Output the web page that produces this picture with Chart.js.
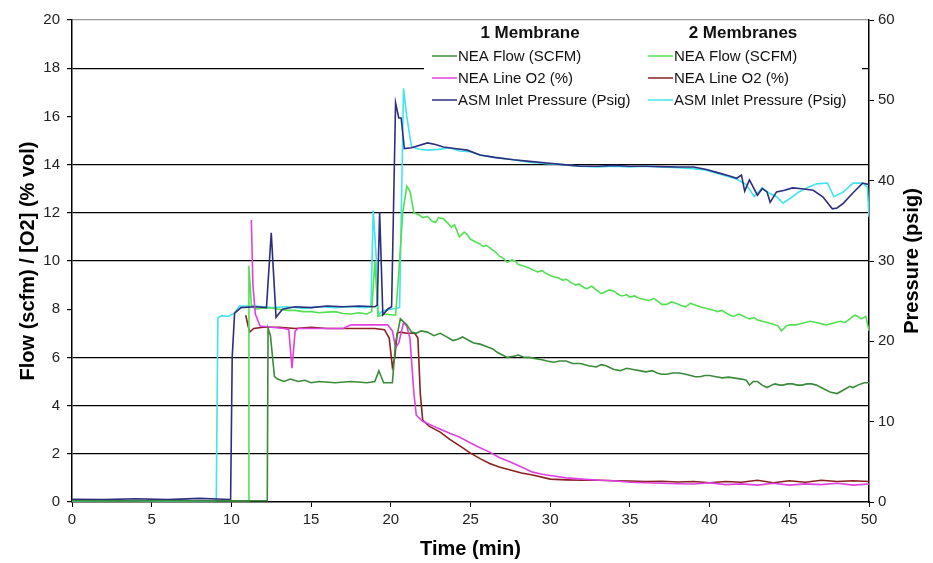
<!DOCTYPE html>
<html>
<head>
<meta charset="utf-8">
<script src="https://cdn.jsdelivr.net/npm/chart.js@4"></script>
<style>
  html, body { margin: 0; padding: 0; background: #fff; }
  #chart { display: block; }
</style>
</head>
<body>
<canvas id="chart" width="933" height="563"></canvas>
<script>
// Time (min) / value pairs. Flow and O2 use the left axis, pressure the right one.
const flow1 = [
  [0, 0.05], [2, 0.05], [4, 0.05], [6, 0.05], [8, 0.05], [10, 0.05], [12.25, 0.05], [12.3, 7.2], [12.45, 6.9],
  [12.7, 5.2], [12.9, 5.1], [13.3, 5.0], [13.7, 5.1], [14.2, 5.0], [14.6, 5.05], [15.0, 4.95], [15.5, 5.0],
  [16.5, 4.95], [17.5, 5.0], [18.5, 4.95], [19.0, 5.0], [19.25, 5.45], [19.55, 4.95], [20.1, 4.95], [20.3, 6.6],
  [20.6, 7.6], [21.0, 7.35], [21.3, 7.05], [21.6, 7.0], [21.9, 7.1], [22.3, 7.05], [22.7, 6.9], [23.1, 7.0],
  [23.5, 6.85], [23.9, 6.7], [24.2, 6.75], [24.5, 6.85], [24.9, 6.7], [25.2, 6.6], [25.6, 6.55], [26.0, 6.45],
  [26.4, 6.35], [26.7, 6.2], [27.0, 6.1], [27.3, 6.0], [27.7, 6.05], [28.0, 6.1], [28.4, 6.0], [28.7, 6.0],
  [29.1, 5.95], [29.5, 5.9], [29.8, 5.85], [30.2, 5.8], [30.6, 5.85], [31.0, 5.85], [31.4, 5.75], [31.9, 5.75],
  [32.4, 5.65], [32.9, 5.6], [33.2, 5.7], [33.5, 5.65], [34.0, 5.5], [34.4, 5.45], [34.8, 5.55], [35.2, 5.5],
  [35.6, 5.45], [36.0, 5.4], [36.4, 5.45], [36.7, 5.35], [37.0, 5.3], [37.3, 5.3], [37.7, 5.35], [38.1, 5.35],
  [38.5, 5.3], [38.8, 5.25], [39.1, 5.2], [39.4, 5.2], [39.7, 5.25], [40.0, 5.25], [40.4, 5.2], [40.8, 5.15],
  [41.2, 5.18], [41.5, 5.15], [42.0, 5.1], [42.3, 5.05], [42.5, 4.85], [42.75, 5.0], [43.0, 5.0], [43.3, 4.85],
  [43.6, 4.75], [43.9, 4.85], [44.1, 4.9], [44.4, 4.85], [44.6, 4.85], [44.9, 4.9], [45.2, 4.9], [45.5, 4.85],
  [45.8, 4.85], [46.1, 4.9], [46.4, 4.9], [46.7, 4.85], [47.0, 4.75], [47.3, 4.65], [47.6, 4.55], [48.0, 4.5],
  [48.4, 4.65], [48.8, 4.8], [49.0, 4.75], [49.3, 4.85], [49.7, 4.95], [50.0, 4.95]
];
const flow2 = [
  [0, 0.05], [11.05, 0.05], [11.1, 9.8], [11.25, 8.2], [11.5, 8.0], [12.0, 8.05], [12.5, 8.05], [13.0, 8.0],
  [13.5, 7.95], [14.0, 7.95], [14.5, 7.9], [15.0, 7.9], [15.5, 7.85], [16.0, 7.88], [16.5, 7.9], [17.0, 7.82],
  [17.5, 7.8], [18.0, 7.85], [18.5, 7.8], [18.8, 7.9], [19.0, 10.0], [19.2, 7.7], [19.6, 7.8], [20.3, 7.75],
  [20.5, 9.5], [20.75, 12.0], [21.0, 13.1], [21.2, 12.9], [21.45, 12.0], [21.8, 11.9], [22.0, 11.8], [22.3, 11.85],
  [22.6, 11.65], [22.8, 11.6], [23.0, 11.8], [23.3, 11.75], [23.6, 11.55], [23.8, 11.4], [24.0, 11.5], [24.3, 11.0],
  [24.6, 11.2], [24.8, 11.1], [25.0, 10.9], [25.3, 10.8], [25.6, 10.7], [25.8, 10.6], [26.0, 10.65], [26.3, 10.5],
  [26.6, 10.35], [26.8, 10.2], [27.0, 10.15], [27.3, 9.95], [27.6, 10.05], [27.8, 10.0], [28.0, 9.85], [28.3, 9.8],
  [28.5, 9.75], [28.7, 9.7], [29.0, 9.6], [29.2, 9.55], [29.5, 9.6], [29.7, 9.5], [30.0, 9.4], [30.2, 9.35],
  [30.5, 9.3], [30.8, 9.2], [31.0, 9.25], [31.3, 9.1], [31.6, 9.0], [31.8, 9.05], [32.1, 8.9], [32.3, 8.85],
  [32.6, 8.95], [32.9, 8.8], [33.2, 8.65], [33.4, 8.7], [33.7, 8.8], [34.0, 8.75], [34.3, 8.6], [34.5, 8.55],
  [34.8, 8.6], [35.0, 8.5], [35.3, 8.55], [35.6, 8.45], [35.9, 8.4], [36.2, 8.35], [36.5, 8.45], [36.8, 8.3],
  [37.0, 8.2], [37.3, 8.2], [37.6, 8.3], [37.9, 8.25], [38.2, 8.15], [38.5, 8.1], [38.8, 8.25], [39.0, 8.2],
  [39.4, 8.1], [39.7, 8.05], [40.0, 8.0], [40.3, 7.95], [40.5, 7.9], [40.8, 7.95], [41.0, 7.85], [41.3, 7.75],
  [41.5, 7.7], [41.8, 7.8], [42.0, 7.75], [42.3, 7.65], [42.5, 7.6], [42.8, 7.65], [43.0, 7.55], [43.3, 7.5],
  [43.6, 7.45], [43.9, 7.4], [44.1, 7.35], [44.3, 7.3], [44.5, 7.1], [44.8, 7.3], [45.0, 7.35], [45.4, 7.35],
  [45.7, 7.4], [46.0, 7.45], [46.3, 7.5], [46.7, 7.45], [47.0, 7.4], [47.3, 7.35], [47.6, 7.4], [47.9, 7.45],
  [48.2, 7.5], [48.5, 7.45], [48.8, 7.6], [49.1, 7.75], [49.3, 7.7], [49.5, 7.6], [49.8, 7.7], [50.0, 7.1]
];
const o2One = [
  [11.25, 11.7], [11.35, 9.0], [11.5, 7.8], [11.8, 7.3], [12.5, 7.25], [13.3, 7.2], [13.6, 7.15], [13.8, 5.55],
  [14.0, 7.1], [14.2, 7.2], [15.5, 7.2], [17.0, 7.2], [17.5, 7.35], [19.0, 7.35], [19.8, 7.35], [20.1, 7.1],
  [20.3, 6.4], [20.5, 6.6], [20.8, 7.45], [21.0, 7.3], [21.2, 6.8], [21.45, 4.5], [21.6, 3.6], [22.0, 3.35],
  [22.5, 3.2], [23.0, 3.05], [23.7, 2.85], [24.3, 2.7], [25.0, 2.45], [25.6, 2.25], [26.2, 2.07], [26.8, 1.85],
  [27.5, 1.66], [28.2, 1.45], [28.9, 1.24], [29.5, 1.15], [30.0, 1.1], [31.0, 1.0], [32.0, 0.95], [33.1, 0.9],
  [34.0, 0.88], [35.0, 0.82], [36.0, 0.8], [37.0, 0.78], [38.0, 0.76], [39.0, 0.75], [40.0, 0.8], [41.0, 0.72],
  [42.0, 0.75], [43.0, 0.7], [44.0, 0.78], [45.0, 0.7], [46.0, 0.75], [47.0, 0.72], [48.0, 0.78], [49.0, 0.7],
  [50.0, 0.75]
];
const o2Two = [
  [10.9, 7.75], [11.05, 7.3], [11.15, 7.05], [11.4, 7.2], [12.0, 7.25], [13.0, 7.25], [14.0, 7.2], [15.0, 7.25],
  [16.0, 7.2], [17.0, 7.2], [18.0, 7.2], [19.0, 7.2], [19.6, 7.15], [19.9, 6.8], [20.1, 5.6], [20.25, 6.0],
  [20.4, 7.0], [20.6, 7.05], [21.0, 7.0], [21.5, 7.0], [21.7, 6.8], [21.85, 4.5], [22.0, 3.4], [22.4, 3.15],
  [23.1, 2.9], [23.7, 2.6], [24.4, 2.3], [25.0, 2.03], [25.6, 1.8], [26.2, 1.6], [26.8, 1.45], [27.5, 1.33],
  [28.2, 1.2], [28.9, 1.12], [30.0, 0.95], [31.0, 0.92], [32.0, 0.9], [33.1, 0.9], [34.0, 0.88], [35.0, 0.87],
  [36.0, 0.85], [37.0, 0.86], [38.0, 0.83], [39.0, 0.85], [40.0, 0.8], [41.0, 0.85], [42.0, 0.82], [43.0, 0.9],
  [44.0, 0.8], [45.0, 0.88], [46.0, 0.82], [47.0, 0.9], [48.0, 0.85], [49.0, 0.88], [50.0, 0.85]
];
const asmOne = [
  [0, 0.35], [2, 0.3], [4, 0.4], [6, 0.3], [8, 0.45], [9.5, 0.35], [9.95, 0.3], [10.05, 18], [10.2, 23.5],
  [10.6, 24.2], [11.5, 24.3], [12.2, 24.2], [12.5, 33.5], [12.8, 23.0], [13.2, 24.0], [14.0, 24.3], [15.0, 24.2],
  [16.0, 24.4], [17.0, 24.3], [18.0, 24.4], [19.0, 24.3], [19.15, 24.5], [19.3, 36.1], [19.5, 23.3], [19.8, 24.0],
  [20.05, 24.3], [20.3, 49.7], [20.5, 47.8], [20.65, 47.8], [20.85, 44.0], [21.3, 44.1], [22.3, 44.7], [22.8, 44.5],
  [23.3, 44.2], [24.0, 44.0], [24.8, 43.8], [25.6, 43.2], [26.5, 42.9], [27.7, 42.6], [28.7, 42.4], [29.8, 42.2],
  [30.8, 42.0], [31.9, 41.8], [33.0, 41.8], [34.0, 41.9], [35.0, 41.8], [36.0, 41.8], [37.0, 41.75], [38.0, 41.7],
  [39.0, 41.7], [39.8, 41.4], [40.5, 41.0], [41.2, 40.6], [41.7, 40.3], [42.0, 40.7], [42.2, 38.7], [42.5, 40.1],
  [43.0, 38.2], [43.3, 39.0], [43.6, 38.6], [43.8, 37.3], [44.2, 38.6], [44.7, 38.8], [45.2, 39.1], [45.8, 39.0],
  [46.5, 38.8], [47.1, 38.0], [47.7, 36.5], [48.0, 36.6], [48.4, 37.2], [49.0, 38.5], [49.6, 39.7], [50.0, 39.5]
];
const asmTwo = [
  [0, 0.1], [3, 0.15], [6, 0.1], [9.05, 0.15], [9.15, 22.9], [9.4, 23.2], [9.8, 23.1], [10.2, 23.5], [10.5, 24.4],
  [11.5, 24.4], [12.5, 24.2], [13.5, 24.3], [14.5, 24.1], [15.5, 24.3], [16.5, 24.2], [17.5, 24.3], [18.4, 24.2],
  [18.75, 24.3], [18.9, 36.3], [19.1, 30.0], [19.2, 23.3], [19.5, 23.8], [20.0, 24.0], [20.55, 24.2], [20.8, 51.5],
  [21.0, 48.0], [21.3, 44.2], [21.8, 43.9], [22.3, 43.8], [23.0, 43.9], [23.7, 44.1], [24.3, 43.7], [25.0, 43.6],
  [25.6, 43.2], [26.5, 42.9], [27.7, 42.6], [28.7, 42.3], [29.8, 42.1], [30.8, 42.0], [31.9, 41.8], [33.0, 41.7],
  [34.0, 41.8], [35.0, 41.7], [36.0, 41.8], [37.0, 41.7], [38.0, 41.6], [39.0, 41.5], [39.8, 41.3], [40.5, 40.9],
  [41.2, 40.5], [41.7, 40.2], [42.3, 39.5], [42.8, 38.0], [43.3, 39.1], [43.7, 38.5], [44.2, 38.0], [44.6, 37.2],
  [45.2, 38.0], [45.6, 38.6], [46.1, 39.1], [46.7, 39.6], [47.4, 39.7], [47.8, 38.0], [48.4, 38.6], [49.0, 39.7],
  [49.6, 39.7], [49.9, 39.2], [50.0, 35.5]
];

const groupNames = ['1 Membrane', '2 Membranes'];
const seriesNames = ['NEA Flow (SCFM)', 'NEA Line O2 (%)', 'ASM Inlet Pressure (Psig)'];
const colors1 = ['#3b8a3b', '#e040e0', '#2e2e7e'];
const colors2 = ['#52e052', '#8a2020', '#40e4ee'];

const FONT = "'Liberation Sans', Arial, sans-serif";
const toPoints = (arr) => arr.map(([x, y]) => ({ x, y }));

function line(data, color, axis) {
  return {
    data: toPoints(data),
    borderColor: color,
    borderWidth: 1.6,
    pointRadius: 0,
    tension: 0,
    fill: false,
    yAxisID: axis,
  };
}

// two-column legend + right axis title (reads bottom to top)
const extras = {
  id: 'extras',
  afterDatasetsDraw(chart) {
    const c = chart.ctx;
    c.save();
    c.fillStyle = '#fff';
    c.fillRect(424, 21.5, 438, 90);
    c.fillStyle = '#111';
    c.textBaseline = 'middle';
    c.textAlign = 'center';
    c.font = 'bold 17px ' + FONT;
    c.fillText(groupNames[0], 530, 33);
    c.fillText(groupNames[1], 743, 33);
    c.font = '15px ' + FONT;
    c.textAlign = 'left';
    const rows = [56, 78, 100];
    [[432, colors1], [648, colors2]].forEach(([x0, cols]) => {
      rows.forEach((y, i) => {
        c.strokeStyle = cols[i];
        c.lineWidth = 1.5;
        c.beginPath();
        c.moveTo(x0, y);
        c.lineTo(x0 + 25, y);
        c.stroke();
        c.fillText(seriesNames[i], x0 + 26, y + 1);
      });
    });
    c.restore();
  },
  afterDraw(chart) {
    const c = chart.ctx;
    const a = chart.chartArea;
    c.save();
    c.translate(912, (a.top + a.bottom) / 2);
    c.rotate(-Math.PI / 2);
    c.font = 'bold 20px ' + FONT;
    c.fillStyle = '#000';
    c.textAlign = 'center';
    c.textBaseline = 'middle';
    c.fillText('Pressure (psig)', 0, 0);
    c.restore();
  },
};

new Chart(document.getElementById('chart'), {
  type: 'line',
  data: {
    datasets: [
      line(flow1, colors1[0], 'y'),
      line(o2One, colors1[1], 'y'),
      line(asmOne, colors1[2], 'y2'),
      line(flow2, colors2[0], 'y'),
      line(o2Two, colors2[1], 'y'),
      line(asmTwo, colors2[2], 'y2'),
    ],
  },
  options: {
    responsive: false,
    animation: false,
    devicePixelRatio: 1,
    layout: { padding: { top: 20, left: 0, right: 0, bottom: 0 } },
    plugins: { legend: { display: false }, tooltip: { enabled: false } },
    scales: {
      x: {
        type: 'linear',
        min: 0,
        max: 50,
        ticks: { stepSize: 5, color: '#222', font: { family: FONT, size: 15 }, padding: 4, maxRotation: 0 },
        grid: { drawOnChartArea: false, tickLength: 5, tickColor: '#000' },
        border: { color: '#000', width: 1.5 },
        title: { display: true, text: 'Time (min)', color: '#000', font: { family: FONT, size: 20, weight: 'bold' }, padding: { top: 0, bottom: 2 } },
        afterFit(s) { s.height = 61; },
      },
      y: {
        position: 'left',
        min: 0,
        max: 20,
        ticks: { stepSize: 2, color: '#222', font: { family: FONT, size: 15 }, padding: 7 },
        grid: {
          color: (ctx) => {
            const v = ctx.tick && ctx.tick.value;
            if (v === 20) return '#999';
            if (v === 0 || v === 8 || v === 16) return 'rgba(0,0,0,0)';
            return '#000';
          },
          lineWidth: 1.2,
          tickLength: 5,
          tickColor: '#000',
        },
        border: { color: '#000', width: 1.5 },
        title: { display: true, text: 'Flow (scfm) / [O2] (% vol)', color: '#000', font: { family: FONT, size: 20, weight: 'bold' }, padding: { top: 16, bottom: 0 } },
        afterFit(s) { s.width = 72; },
      },
      y2: {
        position: 'right',
        min: 0,
        max: 60,
        ticks: { stepSize: 10, color: '#222', font: { family: FONT, size: 15 }, padding: 4 },
        grid: { drawOnChartArea: false, tickLength: 5, tickColor: '#000' },
        border: { color: '#000', width: 1.5 },
        afterFit(s) { s.width = 64; },
      },
    },
  },
  plugins: [extras],
});
</script>
</body>
</html>
